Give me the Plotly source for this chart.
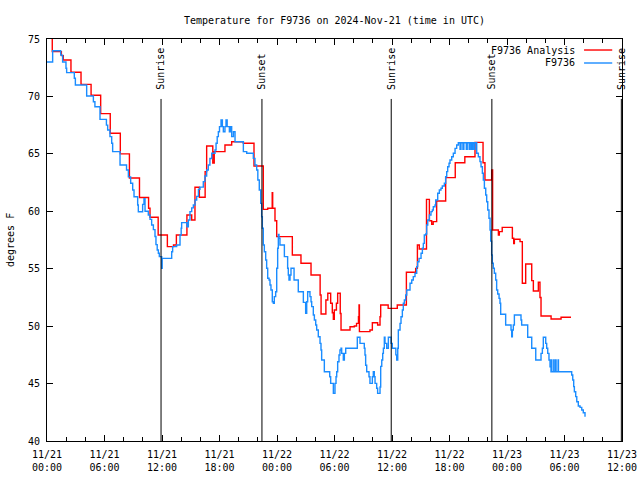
import plotly.graph_objects as go

# ---------------- data (hours since 11/21 00:00 UTC, degrees F) ----------------
red_hours = [0, 0.55, 1.5, 1.7, 2.5, 3.55, 4.6, 5.6, 6.6, 7.65, 8.6, 9.65, 10.6, 10.75,
             11.6, 12.56, 13.2, 13.5, 14.6, 15.1, 15.44, 15.9, 16.5, 16.66, 17.3, 17.45,
             18.57, 19.27, 20.49, 21.6, 22.57, 23.03, 23.5, 23.55, 23.79, 23.97, 25.6,
             26.5, 27.55, 28.5, 28.6, 29.1, 29.3, 29.6, 29.77, 29.88, 29.98, 30.2, 30.33,
             30.6, 30.68, 31.62, 32.07, 32.3, 32.5, 32.56, 32.6, 33.7, 33.95, 34.5, 34.75,
             34.82, 35.6, 36.55, 37.5, 38.47, 38.65, 38.85, 39.6, 39.9, 40.14, 40.3, 40.66,
             41.6, 42.6, 43.6, 44.66, 45.5, 45.7, 46.4, 46.5, 47.1, 47.2, 47.37, 47.5,
             48.56, 48.7, 48.77, 49.36, 49.6, 49.95, 50.58, 50.75, 51.27, 51.44, 51.55,
             52.6, 53.64, 54.68]
red_temps = [75.6, 73.9, 73.55, 73.17, 72.1, 71.05, 70.1, 68.5, 66.8, 65.0, 62.9, 61.2, 60.26, 59.48,
             57.94, 56.92, 57.07, 57.94, 59.68, 59.24, 62.09, 61.22, 63.45, 65.68, 64.2, 65.19,
             65.77, 66.06, 65.92, 63.94, 60.17, 60.26, 61.62, 60.26, 59.18, 57.79, 56.2,
             55.47, 54.45, 52.71, 51.06, 52.28, 52.86, 51.99, 51.17, 50.6, 51.4, 51.99, 52.86,
             51.1, 49.66, 49.95, 50.01, 50.24, 50.82, 51.84, 49.52, 49.66, 50.3, 50.1, 50.82,
             51.84, 51.55, 51.84, 54.69, 55.03, 57.07, 56.72, 61.04, 59.18, 58.87, 59.1, 60.9,
             62.93, 64.23, 64.75, 66.0, 64.23, 62.72, 63.6, 58.37, 57.94, 58.23, 58.23, 58.6,
             57.65, 57.2, 57.56, 57.36, 53.73, 55.41, 53.96, 53.06, 53.82, 52.5, 50.88,
             50.62, 50.77, 50.77]

blue_hours = [0, 0.59, 1.43, 1.63, 1.98, 2.05, 2.85, 2.96, 4.14, 4.84, 5.0, 5.53, 6.2, 6.33,
              6.57, 6.75, 6.85, 7.62, 8.3, 8.49, 8.73, 8.94, 9.08, 9.46, 9.53, 9.98, 10.12,
              10.23, 10.57, 10.75, 10.92, 11.1, 11.27, 11.37, 11.5, 11.62, 11.72, 11.97,
              12.02, 13.01, 13.11, 13.53, 13.88, 14.0, 14.05, 14.6, 14.75, 14.92, 15.1,
              15.27, 15.45, 15.62, 15.8, 15.96, 16.31, 16.48, 16.66, 16.83, 17.0, 17.19,
              17.53, 17.64, 17.76, 17.88, 18.0, 18.16, 18.3, 18.4, 18.57, 18.68, 18.8,
              19.03, 19.15, 19.27, 19.45, 19.62, 20.49, 20.84, 21.53, 21.7, 21.88, 22.0,
              22.15, 22.3, 22.4, 22.47, 22.57, 22.68, 22.82, 22.92, 23.03, 23.17, 23.27,
              23.37, 23.51, 23.62, 23.72, 23.86, 23.97, 24.07, 24.14, 24.21, 24.31, 24.77,
              25.11, 25.18, 25.25, 25.36, 25.46, 25.78, 26.22, 26.75, 26.99, 27.1, 27.2,
              27.44, 27.55, 27.62, 27.79, 27.9, 28.04, 28.14, 28.31, 28.49, 28.59, 28.66,
              28.94, 29.5, 29.6, 29.88, 30.05, 30.16, 30.23, 30.33, 30.47, 30.57, 30.68,
              30.75, 30.92, 31.03, 31.17, 32.38, 32.66, 33.11, 33.18, 33.25, 33.36, 33.6,
              33.7, 33.95, 34.05, 34.15, 34.23, 34.4, 34.5, 34.75, 34.82, 34.93, 35.03,
              35.1, 35.2, 35.27, 35.45, 35.62, 35.9, 36.03, 36.4, 36.49, 36.6, 36.66,
              36.84, 36.94, 37.08, 37.18, 37.29, 37.43, 37.54, 37.88, 38.06, 38.22, 38.4,
              38.58, 38.68, 38.82, 39.03, 39.17, 39.27, 39.37, 39.52, 39.62, 39.73, 39.9,
              40.07, 40.21, 40.31, 40.49, 40.56, 40.77, 40.94, 41.11, 41.25, 41.46, 41.6,
              41.71, 41.81, 41.95, 42.05, 42.23, 42.4, 42.58, 42.75, 42.92, 43.1, 43.2,
              43.4, 43.5, 43.75, 43.85, 44.05, 44.15, 44.3, 44.4, 44.55, 44.65, 44.84,
              45.01, 45.18, 45.29, 45.43, 45.53, 45.64, 45.78, 45.88, 45.99, 46.12, 46.23,
              46.3, 46.4, 46.47, 46.57, 46.68, 46.82, 46.92, 47.03, 47.17, 47.27, 47.34,
              47.86, 48.42, 48.49, 48.56, 48.66, 48.77, 49.46, 49.53, 50.16, 50.58, 51.0,
              51.55, 51.69, 51.79, 52.04, 52.14, 52.25, 52.38, 52.49, 52.59, 52.64, 52.68,
              52.88, 52.92, 53.08, 53.12, 53.33, 53.37, 54.75, 54.86, 54.96, 55.03, 55.17,
              55.28, 55.44, 55.62, 55.8, 55.96, 56.14]
blue_temps = [73.0, 73.98, 73.6, 73.0, 72.45, 72.07, 71.58, 71.0, 70.04, 69.54, 69.1, 68.0, 67.5, 67.08,
              66.5, 65.92, 65.19, 64.03, 63.6, 63.0, 62.44, 61.85, 61.27, 60.55, 59.96, 60.6, 61.1,
              60.0, 59.68, 59.3, 58.8, 58.4, 57.8, 57.1, 56.63, 56.34, 56.05, 55.04,
              55.9, 56.48, 56.92, 57.07, 57.94, 58.52, 59.01, 58.66, 59.24, 59.97, 60.3,
              60.55, 60.98, 61.3, 61.91, 62.1, 62.58, 63.07, 63.6, 64.03, 64.6, 65.05,
              65.34, 65.92, 66.5, 66.93, 67.37, 67.95, 67.37, 66.93, 67.37, 67.95, 67.37,
              66.93, 67.37, 66.5, 66.93, 66.06, 65.19, 65.05, 64.61, 64.03, 63.6, 62.72,
              61.85, 60.69, 59.53, 58.52, 57.07, 56.48, 55.76, 55.04, 54.17, 54.02, 53.58,
              53.15, 52.13, 51.99, 52.57, 53.0, 55.04, 56.78, 57.99, 57.65, 57.07, 56.05,
              55.04, 54.45, 54.02, 54.45, 55.04, 54.02, 53.0, 52.07, 51.11, 52.13, 53.0,
              52.57, 52.13, 51.7, 50.97, 50.54, 50.1, 49.66, 49.08, 48.5, 47.92, 47.05,
              46.03, 45.6, 45.02, 44.15, 45.02, 45.6, 46.03, 46.9, 47.49, 47.92, 48.07,
              47.63, 47.05, 47.63, 48.07, 49.03, 48.5, 48.07, 47.49, 46.6, 46.03, 45.6,
              45.02, 45.6, 46.03, 45.6, 45.02, 44.59, 44.15, 44.7, 46.5, 47.05, 47.63,
              48.07, 49.03, 48.5, 48.07, 49.03, 48.5, 48.07, 47.5, 47.05, 48.07, 49.66,
              50.24, 50.82, 51.41, 51.99, 52.28, 52.71, 53.15, 53.73, 54.02, 54.31, 54.6,
              55.18, 55.61, 55.9, 56.34, 56.78, 57.21, 57.94, 58.02, 58.81, 59.24, 59.68,
              59.97, 60.11, 60.4, 60.55, 60.98, 61.57, 61.85, 62.0, 62.2, 62.44, 63.01,
              63.45, 63.88, 64.18, 64.47, 64.75, 65.05, 65.48, 65.77, 65.97, 65.4, 65.97,
              65.4, 65.97, 65.4, 65.97, 65.4, 65.97, 65.4, 65.97, 65.4, 65.97, 65.05,
              64.75, 64.32, 63.88, 63.31, 62.72, 62.0, 61.42, 60.83, 60.11, 59.39, 58.37,
              57.4, 56.2, 55.47, 55.04, 54.6, 54.02, 53.15, 52.8, 52.42, 51.99, 51.03,
              50.1, 49.66, 49.08, 49.66, 50.1, 50.97, 50.54, 50.1, 49.03, 48.07, 47.05,
              47.63, 48.07, 49.03, 48.5, 48.07, 47.63, 47.05, 46.47, 46.03, 47.05, 46.03,
              47.05, 46.03, 47.05, 46.03, 47.05, 46.03, 45.75, 45.31, 44.73, 44.29, 43.86,
              43.42, 43.05, 42.93, 42.7, 42.46, 42.12]

tick_hours = [0, 6, 12, 18, 24, 30, 36, 42, 48, 54, 60]
tick_labels = ["11/21<br>00:00", "11/21<br>06:00", "11/21<br>12:00", "11/21<br>18:00",
               "11/22<br>00:00", "11/22<br>06:00", "11/22<br>12:00", "11/22<br>18:00",
               "11/23<br>00:00", "11/23<br>06:00", "11/23<br>12:00"]
y_ticks = [40, 45, 50, 55, 60, 65, 70, 75]

event_hours = [11.9, 22.43, 35.92, 46.42, 59.93]
event_labels = ["Sunrise", "Sunset", "Sunrise", "Sunset", "Sunrise"]

series_names = ["F9736 Analysis", "F9736"]
series_colors = ["#ff0000", "#1a8cff"]
title_text = "Temperature for F9736 on 2024-Nov-21 (time in UTC)"
y_title = "degrees F"

FONT = "DejaVu Sans Mono"
W, H = 640, 480

# ---------------- figure ----------------
fig = go.Figure()
for hrs, vals, name, col in [(red_hours, red_temps, series_names[0], series_colors[0]),
                             (blue_hours, blue_temps, series_names[1], series_colors[1])]:
    fig.add_trace(go.Scatter(x=hrs, y=vals, mode="lines", name=name,
                             line=dict(color=col, width=1.4, shape="hv")))

shapes = []
annotations = []
label_base = 70.41
line_top = 69.78
for h, lab in zip(event_hours, event_labels):
    shapes.append(dict(type="line", xref="x", yref="y", x0=h, x1=h, y0=40, y1=line_top,
                       line=dict(color="black", width=1)))
    annotations.append(dict(x=h, y=label_base, xref="x", yref="y", text=lab,
                            textangle=-90, showarrow=False, xanchor="center",
                            yanchor="bottom", font=dict(family=FONT, size=10, color="black")))

# legend (text right, sample line after it, gnuplot style)
leg_y = [0.9726, 0.9403]
for name, col, yy in zip(series_names, series_colors, leg_y):
    annotations.append(dict(x=0.9217, y=yy, xref="paper", yref="paper", text=name,
                            showarrow=False, xanchor="right", yanchor="middle",
                            font=dict(family=FONT, size=10, color="black")))
    shapes.append(dict(type="line", xref="paper", yref="paper", x0=0.934, x1=0.983,
                       y0=yy, y1=yy, line=dict(color=col, width=1.4)))

annotations.append(dict(x=-0.0643, y=0.5, xref="paper", yref="paper", text=y_title,
                        textangle=-90, showarrow=False, xanchor="center", yanchor="middle",
                        font=dict(family=FONT, size=10, color="black")))

axis_common = dict(showline=True, linecolor="black", linewidth=1, mirror="ticks",
                   ticks="inside", ticklen=6, tickcolor="black", showgrid=False,
                   zeroline=False, automargin=False,
                   tickfont=dict(family=FONT, size=10, color="black"))

fig.update_layout(
    width=W, height=H,
    margin=dict(l=47, r=18, t=39, b=39, autoexpand=False),
    paper_bgcolor="white", plot_bgcolor="white",
    showlegend=False,
    title=dict(text=title_text, x=0.5, xref="paper", xanchor="center",
               y=1 - 20 / H, yref="container", yanchor="middle",
               font=dict(family=FONT, size=10, color="black")),
    xaxis=dict(range=[0, 60], tickmode="array", tickvals=tick_hours, ticktext=tick_labels,
               ticklabelstandoff=4,
               minor=dict(ticks="inside", ticklen=4, tickmode="linear", tick0=0, dtick=2,
                          tickcolor="black", showgrid=False),
               **axis_common),
    yaxis=dict(range=[40, 75], tickmode="array", tickvals=y_ticks, ticklabelstandoff=4,
               **axis_common),
    shapes=shapes,
    annotations=annotations,
)

# remove the default 8px page margin so the 640x480 figure fills the window
fig.write_html("out.html",
               config={"displayModeBar": False, "staticPlot": True},
               post_script="document.body.style.margin='0px';"
                           "document.documentElement.style.overflow='hidden';")
